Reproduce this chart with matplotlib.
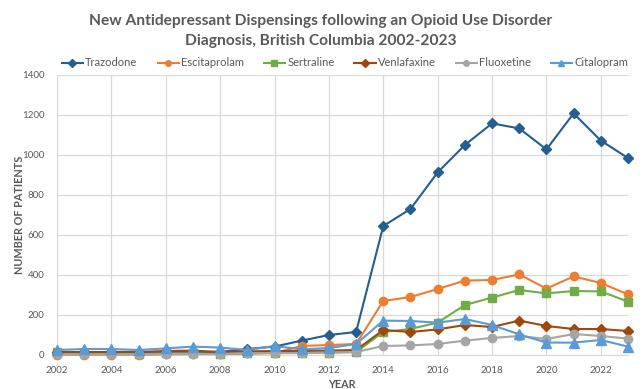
import matplotlib
matplotlib.use("Agg")
import matplotlib.pyplot as plt

years = list(range(2002, 2024))
trazodone = [12, 12, 12, 12, 15, 15, 15, 30, 42, 72, 100, 115, 645, 730, 913, 1050, 1158, 1133, 1028, 1208, 1072, 985]
escitalopram = [2, 2, 2, 2, 3, 5, 5, 8, 10, 45, 50, 55, 270, 290, 330, 372, 375, 403, 332, 393, 360, 303]
sertraline = [15, 8, 8, 5, 8, 8, 5, 8, 10, 10, 12, 15, 115, 130, 162, 250, 287, 325, 308, 320, 318, 267]
venlafaxine = [15, 15, 15, 15, 20, 22, 15, 18, 20, 20, 22, 25, 125, 115, 128, 150, 140, 172, 145, 130, 130, 120]
fluoxetine = [3, 3, 3, 3, 5, 5, 5, 8, 10, 10, 12, 15, 45, 48, 55, 72, 85, 95, 80, 105, 95, 82]
citalopram = [25, 30, 30, 25, 33, 42, 37, 25, 45, 28, 35, 55, 172, 170, 162, 180, 150, 103, 62, 62, 75, 42]

series = [
    ("Trazodone", trazodone, "#255E91", "D", 5.5),
    ("Escitaprolam", escitalopram, "#ED7D31", "o", 6),
    ("Sertraline", sertraline, "#70AD47", "s", 6),
    ("Venlafaxine", venlafaxine, "#9E480E", "D", 5.5),
    ("Fluoxetine", fluoxetine, "#A5A5A5", "o", 6),
    ("Citalopram", citalopram, "#5B9BD5", "^", 6.5),
]

plt.rcParams['font.family'] = ['Lato', 'DejaVu Sans']
txt = "#595959"

fig = plt.figure(figsize=(6.42, 3.89), dpi=100)
ax = fig.add_axes([57/642, 34/389, (628-57)/642, (355-75)/389])

for name, vals, col, mk, ms in series:
    ax.plot(years, vals, color=col, lw=1.5, marker=mk, ms=ms,
            markeredgecolor=col, label=name, clip_on=False, zorder=3)

ax.set_xlim(2002, 2023)
ax.set_ylim(0, 1400)
ax.set_xticks(range(2002, 2023, 2))
ax.set_yticks(range(0, 1401, 200))
ax.grid(True, color="#D9D9D9", lw=0.9)
ax.set_axisbelow(True)
for s in ["top", "right", "left"]:
    ax.spines[s].set_visible(False)
ax.spines["bottom"].set_color("#D9D9D9")
ax.tick_params(length=0, labelsize=7, colors=txt)
ax.tick_params(axis="y", pad=9)
ax.tick_params(axis="x", pad=8)

fig.text(0.5, 1-21/389, "New Antidepressant Dispensings following an Opioid Use Disorder",
         ha="center", va="center", fontsize=11.2, weight="bold", color=txt)
fig.text(0.5, 1-41/389, "Diagnosis, British Columbia 2002-2023",
         ha="center", va="center", fontsize=11.2, weight="bold", color=txt)

leg_handles = []
for name, vals, col, mk, ms in series:
    lh, = ax.plot([], [], color=col, lw=1.5, marker=mk, ms=4, markeredgecolor=col)
    leg_handles.append(lh)
fig.legend(leg_handles, [s[0] for s in series], ncol=6, loc="center",
           bbox_to_anchor=(345/642, 1-63/389), frameon=False, fontsize=8,
           handlelength=1.9, handletextpad=0.2, columnspacing=1.8,
           labelcolor=txt, borderaxespad=0, borderpad=0)

fig.text(20/642, 1-215/389, "NUMBER OF PATIENTS", rotation=90, ha="center", va="center",
         fontsize=7.8, weight="bold", color=txt)
fig.text(342/642, 1-384/389, "YEAR", ha="center", va="center",
         fontsize=7.8, weight="bold", color=txt)

fig.savefig("out.png", dpi=100)
